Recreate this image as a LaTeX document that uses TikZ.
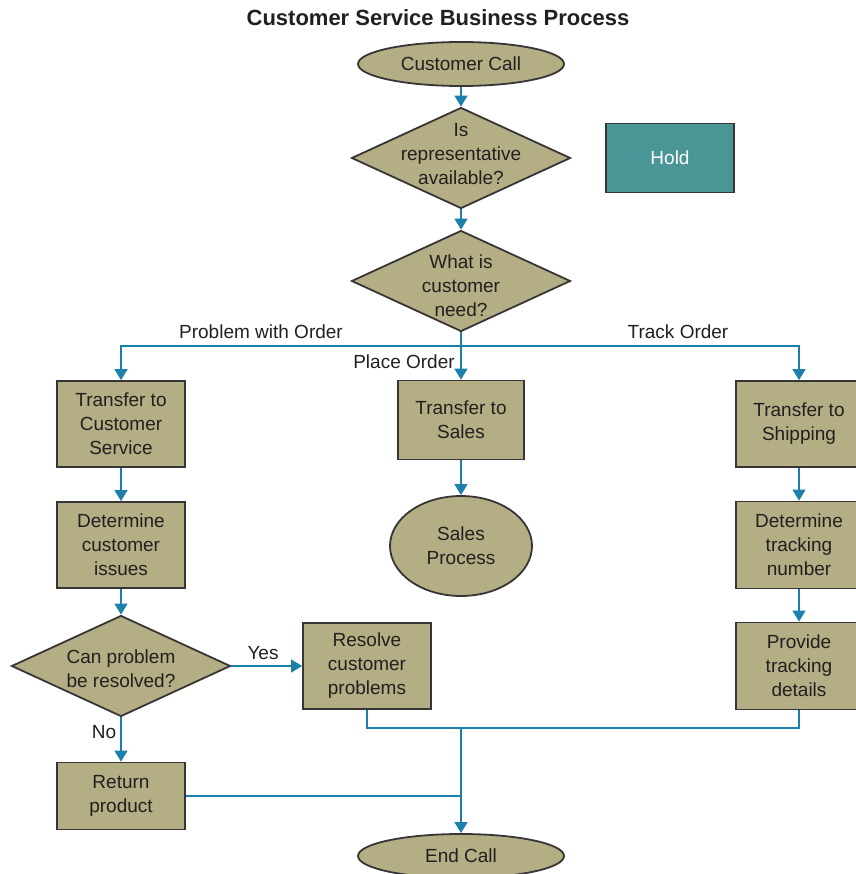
\documentclass[tikz,border=0pt]{standalone}
\usepackage{fontspec}
\setmainfont{Liberation Sans}
\usetikzlibrary{shapes.geometric,arrows.meta}
\definecolor{tan}{HTML}{B3AE84}
\definecolor{holdteal}{HTML}{4A9696}
\definecolor{flow}{HTML}{1B80AB}
\definecolor{ink}{HTML}{231F20}
\begin{document}
\begin{tikzpicture}[x=1pt,y=-1pt,
  every node/.style={font=\fontsize{19}{24}\selectfont, text=ink, align=center, inner sep=0pt},
  procbox/.style={draw=ink!90, line width=1.8pt, fill=tan, rectangle, minimum width=128pt, minimum height=#1},
  procbox/.default=86pt,
  termin/.style={draw=ink!90, line width=1.8pt, fill=tan, ellipse},
  decide/.style={draw=ink!90, line width=1.8pt, fill=tan, diamond, minimum width=219pt, minimum height=101pt},
  link/.style={draw=flow, line width=1.3pt},
  arr/.style={link, -{Triangle[length=11pt,width=13pt]}},
  tag/.style={font=\fontsize{19}{24}\selectfont}
]
\useasboundingbox (0,0) rectangle (855,874);

% title
\node[font=\bfseries\fontsize{22}{26}\selectfont] (title) at (438,18) {Customer Service Business Process};

% top of the flow
\node[termin, minimum width=206pt, minimum height=44pt] (call) at (461,64) {Customer Call};
\node[decide] (avail) at (461,158) {};
\node (availtxt) at (461,154) {Is\\representative\\available?};
\node[draw=ink!90, line width=1.8pt, fill=holdteal, minimum width=128pt, minimum height=69pt, text=white] (hold) at (670,158) {Hold};
\node[decide] (need) at (461,281) {};
\node (needtxt) at (461,286) {What is\\customer\\need?};

% left column: problem with order
\node[procbox] (cs) at (121,424) {\rule{0pt}{4pt}Transfer to\\Customer\\Service};
\node[procbox] (issues) at (121,545) {\rule{0pt}{4pt}Determine\\customer\\issues};
\node[decide] (canres) at (121,666) {};
\node (canrestxt) at (121,669) {Can problem\\be resolved?};
\node[procbox=67pt] (ret) at (121,796) {\rule{0pt}{4pt}Return\\product};
\node[procbox] (resolve) at (367,666) {\rule{0pt}{4pt}Resolve\\customer\\problems};

% centre column: place order
\node[procbox=79pt, minimum width=126pt] (sales) at (461,420) {\rule{0pt}{4pt}Transfer to\\Sales};
\node[termin, minimum width=142pt, minimum height=100pt] (salesproc) at (461,546) {Sales\\Process};

% right column: track order
\node[procbox=86pt, minimum width=126pt] (ship) at (799,424) {\rule{0pt}{4pt}Transfer to\\Shipping};
\node[procbox=87pt, minimum width=126pt] (tracknum) at (799,545) {\rule{0pt}{4pt}Determine\\tracking\\number};
\node[procbox=87pt, minimum width=126pt] (details) at (799,666) {\rule{0pt}{4pt}Provide\\tracking\\details};

% end of the flow
\node[termin, minimum width=206pt, minimum height=44pt] (endcall) at (461,856) {End Call};

% junction points
\coordinate (split) at (461,346);
\coordinate (merge) at (461,728);
\coordinate (retjoin) at (461,796);

% connectors
\draw[arr] (call) -- (avail);
\draw[arr] (avail) -- (need);
\draw[link] (need.south) -- (split);
\draw[arr] (split) -| (cs.north);
\draw[arr] (split) -| (ship.north);
\draw[arr] (split) -- (sales.north);
\draw[arr] (cs) -- (issues);
\draw[arr] (issues) -- (canres.north);
\draw[arr] (canres.east) -- (resolve.west);
\draw[arr] (canres.south) -- (ret.north);
\draw[arr] (sales) -- (salesproc);
\draw[arr] (ship) -- (tracknum);
\draw[arr] (tracknum) -- (details);
\draw[link] (resolve.south) |- (merge) -| (details.south);
\draw[link] (ret.east) -- (retjoin);
\draw[arr] (merge) -- (endcall.north);

% branch labels
\node[tag] (lprob) at (261,332) {Problem with Order};
\node[tag] (ltrack) at (678,332) {Track Order};
\node[tag] (lplace) at (404,362) {Place Order};
\node[tag] (lyes) at (263,653) {Yes};
\node[tag] (lno) at (104,732) {No};
\end{tikzpicture}
\end{document}
